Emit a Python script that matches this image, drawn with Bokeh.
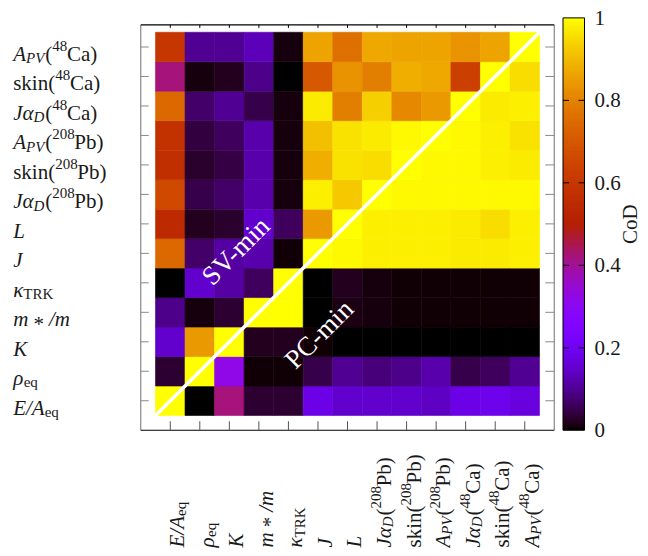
import math
import numpy as np
from bokeh.plotting import figure
from bokeh.models import ColumnDataSource, LinearColorMapper, Range1d
from bokeh.transform import transform
from bokeh.core.properties import value
from bokeh.embed import file_html
from bokeh.resources import INLINE

# ---------------- data ----------------
# categories, bottom (index 0) to top (index 12) / left to right
categories = ["E/A_eq", "rho_eq", "K", "m*/m", "kappa_TRK", "J", "L",
              "JalphaD(208Pb)", "skin(208Pb)", "APV(208Pb)",
              "JalphaD(48Ca)", "skin(48Ca)", "APV(48Ca)"]

# CoD values, one list per row (row = y category), columns follow `categories`
# above the diagonal: SV-min, below the diagonal: PC-min
row_EA     = [1.00, 0.00, 0.42, 0.035, 0.035, 0.18, 0.15, 0.15, 0.15, 0.14, 0.18, 0.19, 0.17]
row_rho    = [0.035, 1.00, 0.32, 0.005, 0.005, 0.05, 0.10, 0.08, 0.09, 0.12, 0.05, 0.06, 0.10]
row_K      = [0.15, 0.84, 1.00, 0.02, 0.02, 0.005, 0.003, 0.003, 0.003, 0.003, 0.002, 0.003, 0.003]
row_mstar  = [0.09, 0.01, 0.035, 1.00, 1.00, 0.003, 0.015, 0.008, 0.005, 0.005, 0.005, 0.005, 0.005]
row_kappa  = [0.00, 0.15, 0.11, 0.06, 1.00, 0.003, 0.02, 0.01, 0.005, 0.005, 0.005, 0.005, 0.005]
row_J      = [0.74, 0.07, 0.11, 0.12, 0.005, 1.00, 0.99, 0.98, 0.98, 0.98, 0.97, 0.97, 0.98]
row_L      = [0.55, 0.02, 0.03, 0.15, 0.06, 0.84, 1.00, 0.98, 0.98, 0.98, 0.97, 0.95, 0.98]
row_JaPb   = [0.66, 0.05, 0.07, 0.12, 0.01, 0.98, 0.92, 1.00, 0.99, 0.99, 0.99, 0.99, 0.99]
row_skinPb = [0.57, 0.03, 0.045, 0.12, 0.01, 0.88, 0.96, 0.95, 1.00, 0.99, 0.99, 0.98, 0.97]
row_APVPb  = [0.58, 0.04, 0.06, 0.12, 0.01, 0.91, 0.96, 0.97, 0.99, 1.00, 0.99, 0.98, 0.96]
row_JaCa   = [0.74, 0.07, 0.10, 0.05, 0.01, 0.97, 0.79, 0.93, 0.81, 0.84, 1.00, 0.97, 0.98]
row_skinCa = [0.42, 0.01, 0.02, 0.09, 0.00, 0.70, 0.83, 0.79, 0.88, 0.87, 0.63, 1.00, 0.95]
row_APVCa  = [0.60, 0.10, 0.10, 0.13, 0.01, 0.86, 0.76, 0.87, 0.86, 0.86, 0.83, 0.86, 1.00]

rows = [row_EA, row_rho, row_K, row_mstar, row_kappa, row_J, row_L,
        row_JaPb, row_skinPb, row_APVPb, row_JaCa, row_skinCa, row_APVCa]

cbar_ticks = [0, 0.2, 0.4, 0.6, 0.8, 1]
cbar_title = "CoD"
region_labels = ["SV-min", "PC-min"]

# tick label typography: (text, italic?, kind) kind: n / sub / sup / bin
label_pieces = [
    [("E/A", True, "n"), ("eq", False, "sub")],
    [("ρ", True, "n"), ("eq", False, "sub")],
    [("K", True, "n")],
    [("m", True, "n"), ("*", False, "bin"), ("/m", True, "n")],
    [("κ", True, "n"), ("TRK", False, "sub")],
    [("J", True, "n")],
    [("L", True, "n")],
    [("Jα", True, "n"), ("D", True, "sub"), ("(", False, "n"), ("208", False, "sup"), ("Pb)", False, "n")],
    [("skin(", False, "n"), ("208", False, "sup"), ("Pb)", False, "n")],
    [("A", True, "n"), ("PV", True, "sub"), ("(", False, "n"), ("208", False, "sup"), ("Pb)", False, "n")],
    [("Jα", True, "n"), ("D", True, "sub"), ("(", False, "n"), ("48", False, "sup"), ("Ca)", False, "n")],
    [("skin(", False, "n"), ("48", False, "sup"), ("Ca)", False, "n")],
    [("A", True, "n"), ("PV", True, "sub"), ("(", False, "n"), ("48", False, "sup"), ("Ca)", False, "n")],
]

# ---------------- styling helpers ----------------
FONT = "Liberation Serif"
FS = 21
SUBSCALE = 0.7
TXT = "#1a1a1a"
W_REG = {'(': 333, ')': 333, '0': 500, '1': 500, '2': 500, '4': 500, '8': 500,
         'C': 667, 'P': 556, 'V': 722, 'a': 444, 'b': 500, 'e': 444, 'i': 278,
         'k': 500, 'n': 500, 'q': 500, 's': 389, 'T': 611, 'R': 667, 'K': 722,
         'D': 722, ' ': 250, '/': 278, '*': 500}
W_IT = {'A': 611, 'E': 611, 'J': 444, 'K': 667, 'L': 556, 'm': 722, 'P': 611,
        'V': 611, 'D': 722, '/': 278, ' ': 250, 'α': 520, 'κ': 480, 'ρ': 500}


def text_width(txt, italic, scale):
    tbl = W_IT if italic else W_REG
    return sum(tbl.get(ch, 500) for ch in txt) * FS * scale / 1000.0


def gnuplot_color(t):
    r = math.sqrt(t)
    g = t ** 3
    b = max(0.0, math.sin(2 * math.pi * t))
    return "#%02x%02x%02x" % (round(255 * r), round(255 * g), round(255 * b))


palette = [gnuplot_color(i / 255) for i in range(256)]
n = len(categories)

# ---------------- geometry (canvas covers the whole picture) ----------------
W, H = 646, 548
PXU_X, PXU_Y = 29.54, 29.48          # pixels per category unit
X0 = -0.5 - 155.0 / PXU_X            # data x at the canvas left edge
Y1 = -0.5 + 415.0 / PXU_Y            # data y at the canvas top edge
XF0, XF1 = -1.0, n                   # plot box in category units
YF0, YF1 = -1.0, n - 0.25

p = figure(width=W, height=H,
           x_range=Range1d(X0, X0 + W / PXU_X), y_range=Range1d(Y1 - H / PXU_Y, Y1),
           x_axis_location=None, y_axis_location=None, min_border=0,
           output_backend="svg", toolbar_location=None,
           background_fill_color="white", border_fill_color="white")
p.grid.visible = False
p.outline_line_color = None

# colour-bar scale: CoD 0 at the plot-box bottom, CoD 1 at 7 px above plot-box top
cb_bottom_px = H - (YF0 - (Y1 - H / PXU_Y)) * PXU_Y
cb_top_px = (Y1 - YF1) * PXU_Y - 7.0
cb_ppu = cb_bottom_px - cb_top_px
p.extra_y_ranges = {"cbar": Range1d(-(H - cb_bottom_px) / cb_ppu, cb_bottom_px / cb_ppu)}

# cells
xs, ys, vs = [], [], []
for j, row in enumerate(rows):
    for i, v in enumerate(row):
        xs.append(i)
        ys.append(j)
        vs.append(v)
src = ColumnDataSource(dict(x=xs, y=ys, v=vs))
mapper = LinearColorMapper(palette=palette, low=0, high=1)
p.rect(x="x", y="y", width=1, height=1, source=src,
       fill_color=transform("v", mapper), line_color=transform("v", mapper),
       line_width=0.6)

# diagonal separator
p.line(x=[-0.5, n - 0.5], y=[-0.5, n - 0.5], line_color="white", line_width=3.5)

# region labels
p.text(x=[2.21, 5.03], y=[5.08, 2.26], text=region_labels, angle=math.pi / 4,
       text_align="center", text_baseline="middle", text_color="white",
       text_font=value(FONT), text_font_size="27px")

# plot box: left/right grey, top/bottom black
p.segment(x0=[XF0, XF1], y0=[YF0, YF0], x1=[XF0, XF1], y1=[YF1, YF1],
          line_color="#888888", line_width=1.2)
p.segment(x0=[XF0, XF0], y0=[YF0, YF1], x1=[XF1, XF1], y1=[YF0, YF1],
          line_color="black", line_width=1.2)

# inward ticks at each category
tk = list(range(n))
p.segment(x0=[XF0] * n, y0=tk, x1=[XF0 + 8 / PXU_X] * n, y1=tk, line_color="#888888", line_width=1)
p.segment(x0=[XF1 - 9 / PXU_X] * n, y0=tk, x1=[XF1] * n, y1=tk, line_color="#888888", line_width=1)
p.segment(x0=tk, y0=[YF0] * n, x1=tk, y1=[YF0 + 9 / PXU_Y] * n, line_color="#555555", line_width=1)
p.segment(x0=tk, y0=[YF1 - 3 / PXU_Y] * n, x1=tk, y1=[YF1] * n, line_color="black", line_width=1)

# tick labels built from pieces (left and bottom), grouped by font style/size
CAP = 0.33 * FS
LEFT_X = X0 + 12.7 / PXU_X
BOT_Y = Y1 - 547.0 / PXU_Y
groups = {}
for idx, pieces in enumerate(label_pieces):
    adv = 0.0
    prev_italic = False
    for txt, it, kind in pieces:
        scale = SUBSCALE if kind in ("sub", "sup") else 1.0
        if prev_italic and not it and kind == "n":
            adv += 0.06 * FS          # italic correction before upright text
        shift = 0.0
        if kind == "sub":
            shift = -0.2 * FS
        elif kind == "sup":
            shift = 0.38 * FS
        elif kind == "bin":
            shift = -0.22 * FS
            adv += 0.24 * FS
        key = ("italic" if it else "normal", "%dpx" % round(FS * scale))
        g = groups.setdefault(key, dict(lx=[], ly=[], bx=[], by=[], text=[]))
        g["lx"].append(LEFT_X + adv / PXU_X)
        g["ly"].append(idx + (-CAP + shift) / PXU_Y)
        g["bx"].append(idx + (CAP - shift) / PXU_X)
        g["by"].append(BOT_Y + adv / PXU_Y)
        g["text"].append(txt)
        adv += text_width(txt, it, scale)
        if kind == "bin":
            adv += 0.24 * FS
        prev_italic = it

for (style, size), g in groups.items():
    s = ColumnDataSource(g)
    p.text(x="lx", y="ly", text="text", source=s, text_font=value(FONT),
           text_font_style=style, text_font_size=value(size), text_align="left",
           text_baseline="alphabetic", text_color=TXT)
    p.text(x="bx", y="by", text="text", source=s, text_font=value(FONT),
           text_font_style=style, text_font_size=value(size), angle=math.pi / 2,
           text_align="left", text_baseline="alphabetic", text_color=TXT)

# colour bar (drawn on its own CoD scale)
cb_x0 = X0 + 562.5 / PXU_X
cb_w = 21.5 / PXU_X
grad = np.linspace(0, 1, 256).reshape(256, 1)
p.image(image=[grad], x=cb_x0, y=0, dw=cb_w, dh=1, color_mapper=mapper,
        y_range_name="cbar")
p.rect(x=[cb_x0 + cb_w / 2], y=[0.5], width=cb_w, height=1, fill_color=None,
       line_color="black", line_width=1, y_range_name="cbar")
inner = [t for t in cbar_ticks if 0 < t < 1]
ni = len(inner)
p.segment(x0=[cb_x0] * ni, y0=inner, x1=[cb_x0 + 6 / PXU_X] * ni, y1=inner,
          line_color="black", line_width=1, y_range_name="cbar")
p.segment(x0=[cb_x0 + cb_w - 6 / PXU_X] * ni, y0=inner, x1=[cb_x0 + cb_w] * ni, y1=inner,
          line_color="black", line_width=1, y_range_name="cbar")
p.text(x=[cb_x0 + cb_w + 10 / PXU_X] * len(cbar_ticks), y=cbar_ticks,
       text=["%g" % t for t in cbar_ticks], text_align="left", text_baseline="middle",
       text_font=value(FONT), text_font_size="21px", text_color=TXT,
       y_range_name="cbar")
p.text(x=[X0 + 629 / PXU_X], y=[0.5], text=[cbar_title], angle=math.pi / 2,
       text_align="center", text_baseline="middle", text_font=value(FONT),
       text_font_size="21px", text_color=TXT, y_range_name="cbar")

open("out.html", "w").write(file_html(p, INLINE))
